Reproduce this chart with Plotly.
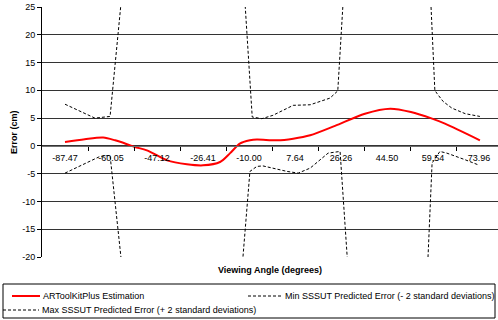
import plotly.graph_objects as go

# Category labels along the viewing-angle axis (degrees)
angle_labels = ["-87.47", "-60.05", "-47.12", "-26.41", "-10.00",
                "7.64", "26.26", "44.50", "59.54", "73.96"]

# Positions are measured in category steps (0 = first labelled angle)
est_pos = [0.00, 0.43, 0.83, 1.09, 1.35, 1.52, 1.78, 2.22, 2.65, 3.00, 3.37,
           3.59, 3.80, 4.02, 4.17, 4.61, 4.96, 5.33, 5.87, 6.52, 7.07, 7.52,
           7.98, 8.26, 9.02]
est_err = [0.7, 1.2, 1.5, 1.0, 0.3, -0.2, -0.8, -2.6, -3.3, -3.5, -2.9,
           -1.3, 0.4, 1.0, 1.15, 1.0, 1.3, 1.9, 3.6, 5.8, 6.7, 6.1,
           4.9, 4.0, 1.0]

min_pos = [0.00, 0.76, 0.98, 1.28, 3.80, 4.02, 4.17, 4.30, 4.83, 5.07, 5.33,
           5.72, 5.98, 6.20, 7.85, 7.98, 8.15, 8.30, 8.70, 8.98]
min_err = [-4.9, -1.9, -1.7, -25.0, -27.0, -4.6, -3.7, -3.6, -4.6, -4.9, -4.0,
           -1.3, -1.0, -28.0, -28.0, -3.1, -1.0, -1.3, -2.5, -3.4]

max_pos = [0.00, 0.65, 0.98, 1.28, 3.85, 4.07, 4.28, 4.52, 4.74, 4.96, 5.33,
           5.76, 5.93, 6.09, 7.93, 8.04, 8.09, 8.22, 8.41, 8.70, 9.02]
max_err = [7.5, 5.0, 5.3, 31.0, 34.0, 5.2, 4.9, 5.5, 6.4, 7.3, 7.4,
           8.6, 9.9, 32.0, 30.0, 10.0, 9.4, 8.0, 6.8, 5.8, 5.3]

y_ticks = [25, 20, 15, 10, 5, 0, -5, -10, -15, -20]

series_names = ["ARToolKitPlus Estimation",
                "Min SSSUT Predicted Error (- 2 standard deviations)",
                "Max SSSUT Predicted Error (+ 2 standard deviations)"]

FONT = "Liberation Sans, Arial, sans-serif"
DOT = "3px,2px"
RED = "#ff0000"

W, H = 498, 320
ML, MR, MT, MB = 42, 0, 7, 63
PW, PH = W - ML - MR, H - MT - MB


def fx(px):
    """Horizontal pixel -> paper fraction."""
    return (px - ML) / PW


def fy(py):
    """Vertical pixel -> paper fraction."""
    return (H - MB - py) / PH


fig = go.Figure()
fig.add_trace(go.Scatter(
    x=est_pos, y=est_err, mode="lines", name=series_names[0],
    line=dict(color=RED, width=2, shape="spline", smoothing=0.8)))
fig.add_trace(go.Scatter(
    x=min_pos, y=min_err, mode="lines", name=series_names[1],
    line=dict(color="black", width=1, dash=DOT)))
fig.add_trace(go.Scatter(
    x=max_pos, y=max_err, mode="lines", name=series_names[2],
    line=dict(color="black", width=1, dash=DOT)))

y_min, y_max = y_ticks[-1], y_ticks[0]

# Legend box drawn below the chart: two columns, two rows
row1, row2 = 296, 310
legend_items = [
    # (sample x0, sample x1, row, colour, width, dash, text x)
    (12, 40, row1, RED, 2, "solid", 41),
    (248, 282, row1, "black", 1, DOT, 283),
    (3, 39, row2, "black", 1, DOT, 40),
]

shapes = [dict(type="rect", xref="paper", yref="paper",
               x0=fx(3), x1=fx(495), y0=fy(318), y1=fy(284),
               line=dict(color="black", width=1), fillcolor="white", layer="above")]
annotations = [
    dict(text="<b>Viewing Angle (degrees)</b>", xref="paper", yref="paper",
         x=fx(270), y=fy(270), xanchor="center", yanchor="middle", showarrow=False,
         font=dict(family=FONT, size=9, color="black")),
    dict(text="<b>Error (cm)</b>", xref="paper", yref="paper",
         x=fx(14), y=0.5, xanchor="center", yanchor="middle", showarrow=False,
         textangle=-90, font=dict(family=FONT, size=9, color="black")),
]
for (x0, x1, row, col, wid, dash, tx), name in zip(legend_items, series_names):
    shapes.append(dict(type="line", xref="paper", yref="paper",
                       x0=fx(x0), x1=fx(x1), y0=fy(row), y1=fy(row),
                       line=dict(color=col, width=wid, dash=dash), layer="above"))
    annotations.append(dict(text=name, xref="paper", yref="paper",
                            x=fx(tx), y=fy(row), xanchor="left", yanchor="middle",
                            showarrow=False,
                            font=dict(family=FONT, size=9, color="black")))

fig.update_layout(
    width=W, height=H,
    margin=dict(l=ML, r=MR, t=MT, b=MB),
    paper_bgcolor="white", plot_bgcolor="white",
    font=dict(family=FONT, size=9, color="black"),
    showlegend=False,
    xaxis=dict(type="linear", range=[-0.5, -0.5 + PW / 46.0],
               tickmode="array", tickvals=list(range(len(angle_labels))),
               ticktext=angle_labels, ticks="", showgrid=False, zeroline=False,
               showline=True, linecolor="#707070", linewidth=1,
               anchor="free", position=(0 - y_min) / (y_max - y_min),
               ticklabelstandoff=3,
               tickfont=dict(family=FONT, size=9, color="black"),
               minor=dict(tickmode="array",
                          tickvals=[i + 0.5 for i in range(len(angle_labels) - 1)],
                          ticks="outside", ticklen=4, tickcolor="black", showgrid=False)),
    yaxis=dict(range=[y_min, y_max], domain=[0, 1],
               tickmode="array", tickvals=y_ticks, ticktext=[str(v) for v in y_ticks],
               ticks="outside", ticklen=4, tickcolor="black",
               showgrid=True, gridcolor="#333333", gridwidth=1, zeroline=False,
               showline=True, linecolor="black", linewidth=1,
               tickfont=dict(family=FONT, size=9, color="black")),
    shapes=shapes,
    annotations=annotations,
)

fig.write_html("out.html")
